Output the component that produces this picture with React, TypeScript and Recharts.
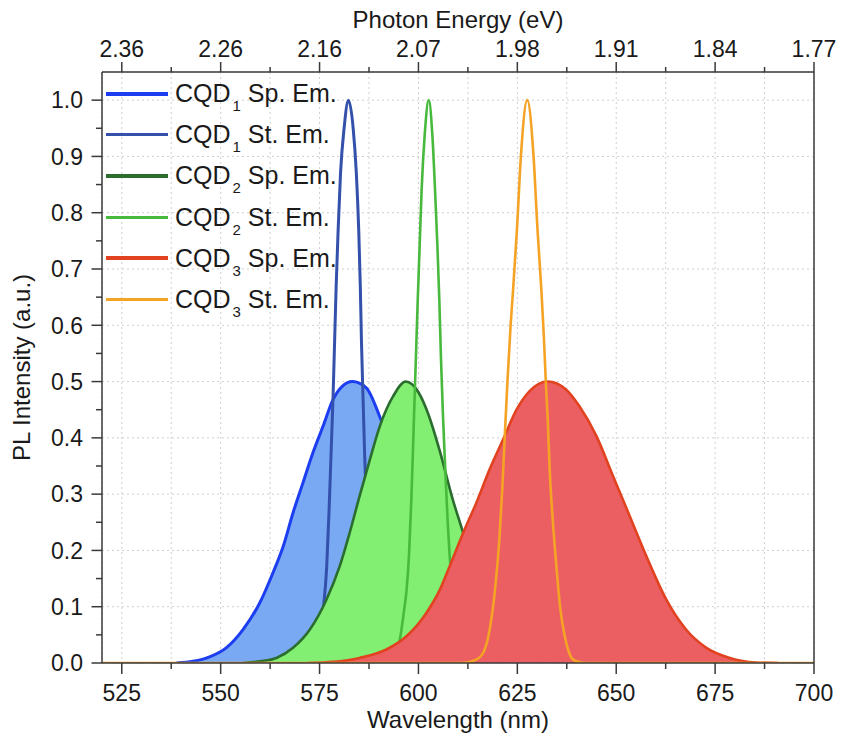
import React from 'react';
import { ComposedChart, Area, XAxis, YAxis, CartesianGrid, Legend } from 'recharts';

// axis ticks
const wlMajor = [525, 550, 575, 600, 625, 650, 675, 700];
const wlTicks = [525, 537.5, 550, 562.5, 575, 587.5, 600, 612.5, 625, 637.5, 650, 662.5, 675, 687.5, 700];
const energyLabels = ['2.36', '2.26', '2.16', '2.07', '1.98', '1.91', '1.84', '1.77'];
const yMajor = [0, 0.1, 0.2, 0.3, 0.4, 0.5, 0.6, 0.7, 0.8, 0.9, 1.0];
const yTicks = [0, 0.05, 0.1, 0.15, 0.2, 0.25, 0.3, 0.35, 0.4, 0.45, 0.5, 0.55, 0.6, 0.65, 0.7, 0.75, 0.8, 0.85, 0.9, 0.95, 1.0];

// [wavelength (nm), PL intensity]
const cqd1Sp: [number, number][] = [
  [538.8, 0], [543, 0.003], [547.2, 0.011], [551.4, 0.027], [555.6, 0.059], [559.9, 0.107],
  [563.2, 0.16], [565.8, 0.207], [568.3, 0.267], [570.8, 0.32], [573.3, 0.373], [575.9, 0.421],
  [578.4, 0.468], [580.8, 0.492], [583.3, 0.5], [586.8, 0.489], [590.2, 0.438], [594, 0.36],
  [598, 0.27], [602, 0.185], [606, 0.115], [610, 0.066], [615, 0.028], [620, 0.01], [625, 0.003], [630, 0],
];
const cqd1St: [number, number][] = [
  [570, 0], [572.5, 0.005], [574, 0.02], [575, 0.05], [576, 0.1], [576.8, 0.17], [577.4, 0.27],
  [577.9, 0.37], [578.4, 0.47], [578.8, 0.57], [579.2, 0.67], [579.7, 0.77], [580.3, 0.87],
  [581.2, 0.95], [582.3, 1.0], [583.5, 0.95], [584.3, 0.87], [584.9, 0.77], [585.3, 0.67],
  [585.6, 0.57], [586, 0.47], [586.4, 0.37], [586.9, 0.27], [587.5, 0.17], [588.3, 0.1],
  [589.3, 0.05], [590.5, 0.02], [592, 0.005], [594, 0],
];
const cqd2Sp: [number, number][] = [
  [555.6, 0], [559.9, 0.003], [564.1, 0.009], [568.3, 0.027], [572.5, 0.059], [576.7, 0.112],
  [580.1, 0.172], [582.6, 0.231], [585.1, 0.296], [587.7, 0.361], [590.2, 0.42], [593.6, 0.474],
  [596.8, 0.5], [600, 0.481], [602.5, 0.442], [605.3, 0.379], [608.7, 0.29], [611.3, 0.231],
  [614, 0.165], [617, 0.108], [620, 0.065], [624, 0.03], [628, 0.012], [632, 0.004], [636, 0],
];
const cqd2St: [number, number][] = [
  [591, 0], [593, 0.005], [594.5, 0.02], [595.5, 0.05], [596.3, 0.09], [597, 0.13], [597.6, 0.19],
  [598.2, 0.29], [598.8, 0.42], [599.3, 0.53], [599.8, 0.64], [600.3, 0.74], [600.8, 0.84],
  [601.6, 0.94], [602.6, 1.0], [603.5, 0.94], [604.2, 0.84], [604.8, 0.74], [605.3, 0.64],
  [605.7, 0.54], [606.2, 0.44], [606.8, 0.34], [607.4, 0.25], [607.9, 0.19], [608.6, 0.12],
  [609.4, 0.06], [610.5, 0.02], [612, 0.005], [614, 0],
];
const cqd3Sp: [number, number][] = [
  [572, 0], [578.4, 0.002], [585.1, 0.009], [591.9, 0.024], [596.9, 0.047], [602, 0.089],
  [605.4, 0.13], [607.9, 0.172], [611.3, 0.231], [614.6, 0.284], [618, 0.344], [621.4, 0.397],
  [624.8, 0.45], [628.1, 0.483], [632.7, 0.5], [637.3, 0.486], [640.7, 0.456], [645, 0.403],
  [649.2, 0.332], [653.4, 0.261], [657.6, 0.19], [662.7, 0.112], [667.7, 0.059], [672.8, 0.027],
  [678.7, 0.009], [685.4, 0.001], [691, 0],
];
const cqd3St: [number, number][] = [
  [520, 0], [611, 0], [614.6, 0.006], [616.5, 0.02], [618, 0.059], [619.5, 0.14], [620.5, 0.225],
  [621.2, 0.31], [621.8, 0.4], [622.5, 0.5], [623.3, 0.6], [623.9, 0.66], [624.9, 0.77],
  [625.9, 0.9], [627.5, 1.0], [629.1, 0.9], [630.1, 0.77], [631.1, 0.66], [631.7, 0.58],
  [632.2, 0.5], [632.7, 0.43], [633.2, 0.34], [634, 0.25], [634.9, 0.17], [635.8, 0.1],
  [637, 0.047], [638, 0.02], [639.1, 0.006], [641, 0.001], [643, 0], [700, 0],
];

// drawn in this order: each stimulated-emission line sits above its own fill but under the next fill
const series = [
  { key: 'cqd1Sp', points: cqd1Sp, n: '1', label: 'Sp. Em.', stroke: '#1d3ef0', fill: '#79a9f3', width: 3 },
  { key: 'cqd1St', points: cqd1St, n: '1', label: 'St. Em.', stroke: '#3350ab', fill: 'none', width: 3 },
  { key: 'cqd2Sp', points: cqd2Sp, n: '2', label: 'Sp. Em.', stroke: '#2b6d2e', fill: '#82ee72', width: 2.6 },
  { key: 'cqd2St', points: cqd2St, n: '2', label: 'St. Em.', stroke: '#47b93c', fill: 'none', width: 2.6 },
  { key: 'cqd3Sp', points: cqd3Sp, n: '3', label: 'Sp. Em.', stroke: '#e1421f', fill: '#eb5f63', width: 2.6 },
  { key: 'cqd3St', points: cqd3St, n: '3', label: 'St. Em.', stroke: '#f4a325', fill: 'none', width: 2.6 },
];

// merge every series onto one wavelength table
const wlSet = new Set<number>();
series.forEach((s) => s.points.forEach(([w]) => wlSet.add(w)));
const rows = Array.from(wlSet)
  .sort((a, b) => a - b)
  .map((wl) => {
    const row: Record<string, number> = { wl };
    series.forEach((s) => {
      const p = s.points.find((q) => q[0] === wl);
      if (p) row[s.key] = p[1];
    });
    return row;
  });

const font = '"Liberation Sans", Arial, sans-serif';
const ink = '#1a1a1a';
const axisColor = '#3a3a3a';

const BottomTick = ({ x, y, payload }: any) => {
  const major = wlMajor.includes(payload.value);
  return (
    <g>
      <line x1={x} x2={x} y1={y} y2={y + (major ? 11 : 6)} stroke={axisColor} strokeWidth={1.5} />
      {major && (
        <text x={x} y={y + 38} textAnchor="middle" fontSize={23} fontFamily={font} fill={ink}>
          {payload.value}
        </text>
      )}
    </g>
  );
};

const TopTick = ({ x, y, payload }: any) => {
  const i = wlMajor.indexOf(payload.value);
  return (
    <g>
      <line x1={x} x2={x} y1={y} y2={y - (i >= 0 ? 10 : 5)} stroke={axisColor} strokeWidth={1.5} />
      {i >= 0 && (
        <text x={x} y={y - 15} textAnchor="middle" fontSize={23} fontFamily={font} fill={ink}>
          {energyLabels[i]}
        </text>
      )}
    </g>
  );
};

const LeftTick = ({ x, y, payload }: any) => {
  const major = yMajor.includes(payload.value);
  return (
    <g>
      <line x1={x - (major ? 10.5 : 6)} x2={x} y1={y} y2={y} stroke={axisColor} strokeWidth={1.5} />
      {major && (
        <text x={x - 19} y={y} dy="0.36em" textAnchor="end" fontSize={23} fontFamily={font} fill={ink}>
          {payload.value.toFixed(1)}
        </text>
      )}
    </g>
  );
};

const BottomTitle = ({ viewBox }: any) => (
  <text x={viewBox.x + viewBox.width / 2} y={viewBox.y + 65} textAnchor="middle" fontSize={24} fontFamily={font} fill={ink}>
    Wavelength (nm)
  </text>
);

const TopTitle = ({ viewBox }: any) => (
  <text x={viewBox.x + viewBox.width / 2} y={viewBox.y + 28} textAnchor="middle" fontSize={24} fontFamily={font} fill={ink}>
    Photon Energy (eV)
  </text>
);

const LeftTitle = ({ viewBox }: any) => {
  const cy = viewBox.y + viewBox.height / 2;
  return (
    <text x={30} y={cy} transform={`rotate(-90, 30, ${cy})`} textAnchor="middle" fontSize={24} fontFamily={font} fill={ink}>
      PL Intensity (a.u.)
    </text>
  );
};

const LegendBox = () => (
  <div style={{ fontFamily: font, color: ink }}>
    {series.map((s) => (
      <div key={s.key} style={{ display: 'flex', alignItems: 'center', height: 41.2 }}>
        <div style={{ width: 62, height: s.fill === 'none' ? 3 : 4, background: s.stroke, marginRight: 7 }} />
        <span style={{ fontSize: 25, whiteSpace: 'pre', lineHeight: 1 }}>
          {'CQD'}
          <span style={{ fontSize: 15, position: 'relative', top: 9, marginLeft: 2 }}>{s.n}</span>
          {' ' + s.label}
        </span>
      </div>
    ))}
  </div>
);

export default function App() {
  return (
    <div style={{ position: 'absolute', left: 0, top: 0, width: 843, height: 734, background: '#fff', fontFamily: font }}>
      <ComposedChart width={843} height={734} data={rows} margin={{ top: 0, right: 0, bottom: 0, left: 0 }}>
        <XAxis xAxisId="x" dataKey="wl" type="number" domain={[520, 700]} allowDataOverflow ticks={wlTicks}
          interval={0} height={71} tickSize={0} tickMargin={0} tickLine={false} tick={<BottomTick />}
          axisLine={{ stroke: axisColor, strokeWidth: 1.5 }} label={<BottomTitle />} />
        <XAxis xAxisId="top" orientation="top" dataKey="wl" type="number" domain={[520, 700]} allowDataOverflow
          ticks={wlTicks} interval={0} height={72} tickSize={0} tickMargin={0} tickLine={false} tick={<TopTick />}
          axisLine={{ stroke: axisColor, strokeWidth: 1.5 }} label={<TopTitle />} />
        <YAxis yAxisId="y" type="number" domain={[0, 1.05]} allowDataOverflow ticks={yTicks} interval={0}
          width={102} tickSize={0} tickMargin={0} tickLine={false} tick={<LeftTick />}
          axisLine={{ stroke: axisColor, strokeWidth: 1.5 }} label={<LeftTitle />} />
        <YAxis yAxisId="right" orientation="right" type="number" domain={[0, 1.05]} width={29} tick={false}
          tickLine={false} axisLine={{ stroke: axisColor, strokeWidth: 1.5 }} />
        <YAxis yAxisId="grid" orientation="right" type="number" domain={[0, 1.05]} allowDataOverflow ticks={yMajor}
          width={0} hide />
        <CartesianGrid xAxisId="x" yAxisId="grid" stroke="#cfcfcf" strokeDasharray="2 3" />
        {series.map((s) => (
          <Area key={s.key} xAxisId="x" yAxisId="y" type="monotone" dataKey={s.key} stroke={s.stroke}
            strokeWidth={s.width} fill={s.fill} fillOpacity={s.fill === 'none' ? 0 : 1} connectNulls dot={false}
            activeDot={false} isAnimationActive={false} />
        ))}
        <Legend layout="vertical" align="center" verticalAlign="middle" content={<LegendBox />}
          wrapperStyle={{ left: 106, top: 73, width: 'auto', height: 'auto' }} />
      </ComposedChart>
    </div>
  );
}
